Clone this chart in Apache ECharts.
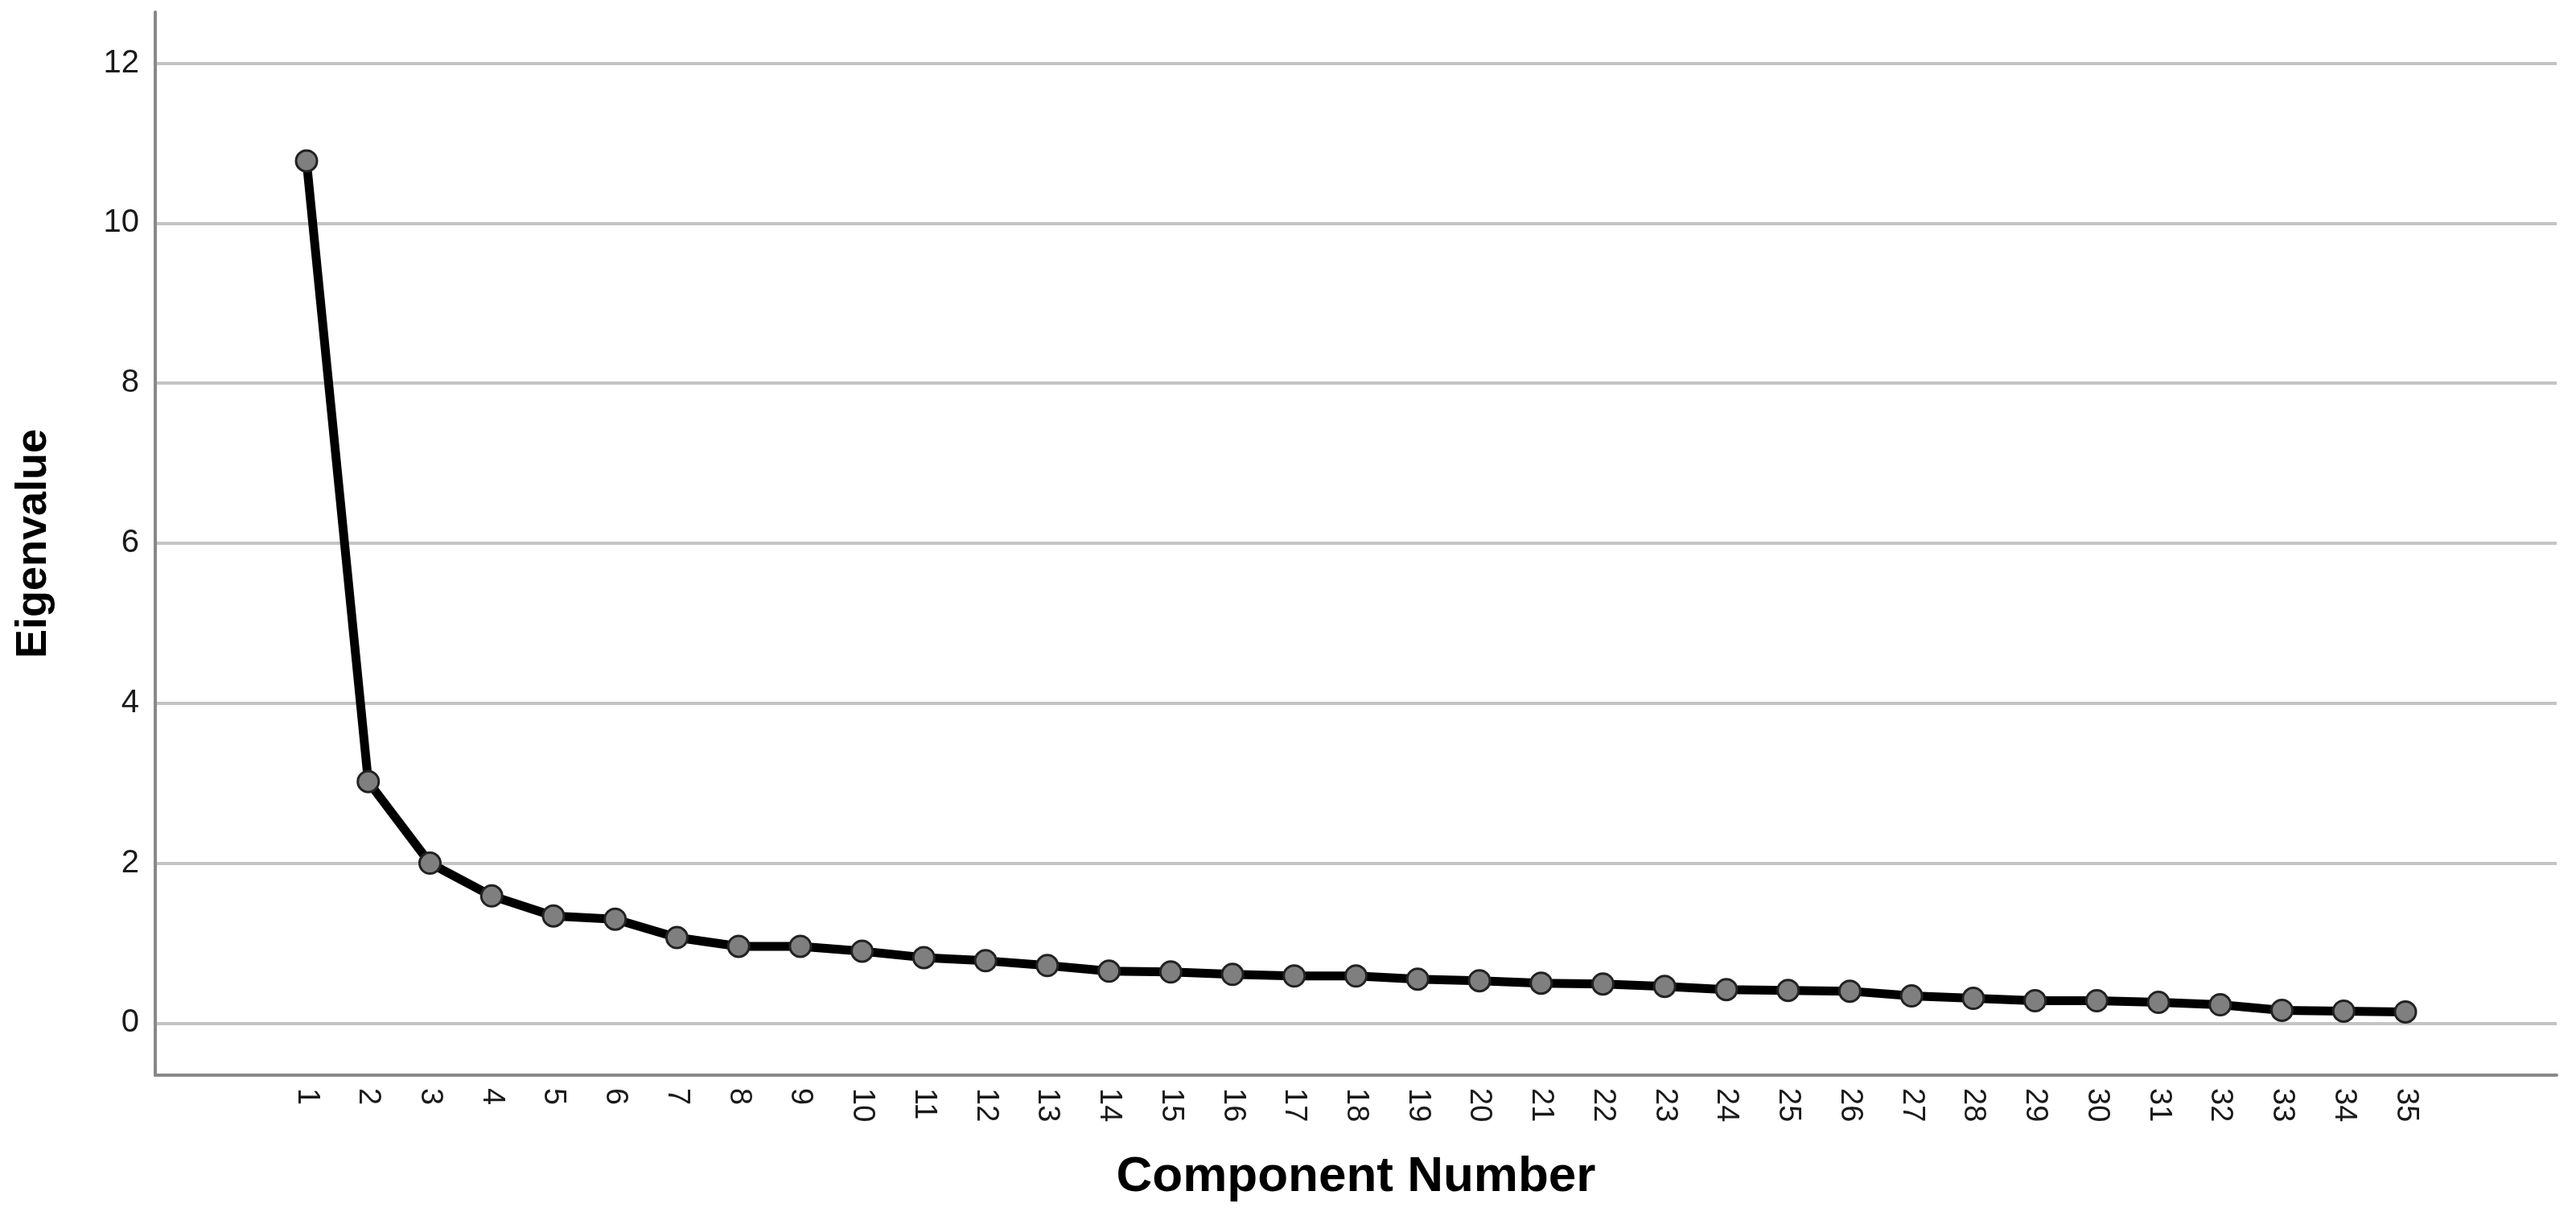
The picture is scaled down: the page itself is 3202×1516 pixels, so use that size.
<!DOCTYPE html>
<html>
<head>
<meta charset="utf-8">
<title>Scree Plot</title>
<script src="https://cdn.jsdelivr.net/npm/echarts@6/dist/echarts.min.js"></script>
<style>
  html, body { margin: 0; padding: 0; background: #fff; }
  #chart { width: 3202px; height: 1516px; }
</style>
</head>
<body>
<div id="chart"></div>
<script>
// component numbers
const components = [1, 2, 3, 4, 5, 6, 7, 8, 9, 10, 11, 12, 13, 14, 15, 16, 17, 18,
  19, 20, 21, 22, 23, 24, 25, 26, 27, 28, 29, 30, 31, 32, 33, 34, 35]
// eigenvalues
const eigenvalues = [10.78, 3.02, 2.00, 1.59, 1.34, 1.30, 1.07, 0.96, 0.96, 0.90,
  0.82, 0.78, 0.72, 0.65, 0.64, 0.61, 0.59, 0.59, 0.55, 0.53,
  0.50, 0.49, 0.46, 0.42, 0.41, 0.40, 0.34, 0.31, 0.28, 0.28,
  0.26, 0.23, 0.16, 0.15, 0.14]
// y tick labels
const yTicks = [0, 2, 4, 6, 8, 10, 12]

const font = '"Liberation Sans", Arial, sans-serif'
const axisGray = '#888888'
const gridGray = '#c4c4c4'

const chart = echarts.init(document.getElementById('chart'), null, { renderer: 'canvas' })

const option = {
  backgroundColor: '#fff',
  animation: false,
  grid: {
    left: 193,
    right: 24,
    top: 15,
    bottom: 180
  },
  xAxis: {
    type: 'value',
    min: -1.45,
    max: 37.45,
    name: 'Component Number',
    nameLocation: 'middle',
    nameGap: 96,
    nameTextStyle: { fontFamily: font, fontWeight: 'bold', fontSize: 62, color: '#000' },
    axisLine: { show: true, onZero: false, lineStyle: { color: axisGray, width: 4 } },
    axisTick: { show: false, customValues: components },
    splitLine: { show: false },
    axisLabel: {
      customValues: components,
      rotate: -90,
      margin: 16,
      fontFamily: font,
      fontSize: 38,
      color: '#1a1a1a'
    }
  },
  yAxis: {
    type: 'value',
    min: -0.65,
    max: 12.64,
    name: 'Eigenvalue',
    nameLocation: 'middle',
    nameGap: 124,
    nameRotate: 90,
    nameTextStyle: { fontFamily: font, fontWeight: 'bold', fontSize: 54, color: '#000' },
    axisLine: { show: true, onZero: false, lineStyle: { color: axisGray, width: 4 } },
    axisTick: { show: false, customValues: yTicks },
    splitLine: { show: true, lineStyle: { color: gridGray, width: 4 } },
    axisLabel: {
      customValues: yTicks,
      margin: 20,
      fontFamily: font,
      fontSize: 40,
      color: '#1a1a1a'
    }
  },
  series: [
    {
      type: 'line',
      data: components.map((c, i) => [c, eigenvalues[i]]),
      symbol: 'circle',
      symbolSize: 26,
      lineStyle: { color: '#000', width: 11 },
      itemStyle: { color: '#7f7f7f', borderColor: '#222', borderWidth: 3 }
    }
  ]
}

chart.setOption(option)
</script>
</body>
</html>
